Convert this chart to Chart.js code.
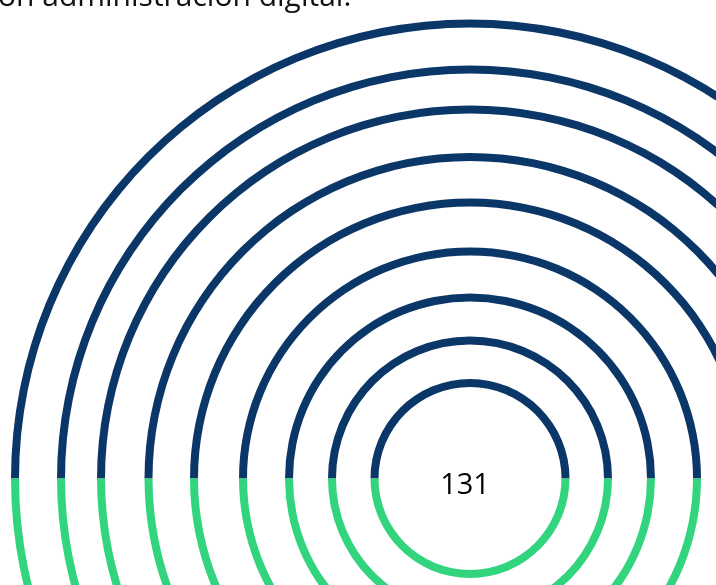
<!DOCTYPE html>
<html>
<head>
<meta charset="utf-8">
<script src="https://cdn.jsdelivr.net/npm/chart.js@4/dist/chart.umd.min.js"></script>
<style>
  html, body { margin: 0; padding: 0; width: 716px; height: 585px; overflow: hidden; background: #ffffff; }
  #wrap { position: relative; width: 716px; height: 585px; overflow: hidden; }
  #c { position: absolute; left: 0; top: 0; }
  #title { position: absolute; left: -2px; top: -20px; font-family: "Open Sans", sans-serif; font-size: 30px; line-height: 30px; color: #111; white-space: nowrap; }
</style>
</head>
<body>
<div id="wrap">
  <canvas id="c" width="940" height="957"></canvas>
  <div id="title">on administración digital.</div>
</div>
<script>
// ---- data ----
const ringLabels = ['Anillo 1','Anillo 2','Anillo 3','Anillo 4','Anillo 5','Anillo 6','Anillo 7','Anillo 8','Anillo 9']; // outer -> inner
const halfLabels = ['Superior', 'Inferior'];
const upperShare = [50, 50, 50, 50, 50, 50, 50, 50, 50];
const lowerShare = [50, 50, 50, 50, 50, 50, 50, 50, 50];
const centerLabel = '131';

// ---- layout / style (not data) ----
const upperColor = '#0b3768';
const lowerColor = '#33d47e';
const ringCenters = [455, 409, 369, 321.5, 276, 227, 181, 138, 95.5]; // px, outer -> inner
const ringWidth = 8;

const outerEdge = ringCenters[0] + ringWidth / 2;
const innerEdge = ringCenters[ringCenters.length - 1] - ringWidth / 2;

const datasets = [];
ringLabels.forEach((lab, i) => {
  if (i > 0) {
    const gap = (ringCenters[i - 1] - ringWidth / 2) - (ringCenters[i] + ringWidth / 2);
    datasets.push({
      label: 'gap' + i,
      data: [1],
      backgroundColor: ['rgba(0,0,0,0)'],
      borderWidth: 0,
      weight: gap
    });
  }
  datasets.push({
    label: lab,
    data: [upperShare[i], lowerShare[i]],
    backgroundColor: [upperColor, lowerColor],
    borderWidth: 0,
    weight: ringWidth
  });
});

const centerText = {
  id: 'centerText',
  afterDraw(chart) {
    const arc = chart.getDatasetMeta(0).data[0];
    const ctx = chart.ctx;
    ctx.save();
    ctx.font = '29px "Open Sans", sans-serif';
    ctx.fillStyle = '#000';
    ctx.textAlign = 'center';
    ctx.textBaseline = 'alphabetic';
    ctx.fillText(centerLabel, arc.x - 5, arc.y + 15);
    ctx.restore();
  }
};

new Chart(document.getElementById('c'), {
  type: 'doughnut',
  data: { labels: halfLabels, datasets: datasets },
  options: {
    responsive: false,
    animation: false,
    events: [],
    rotation: -90,
    radius: outerEdge,
    cutout: (innerEdge / outerEdge * 100) + '%',
    layout: { padding: 0 },
    plugins: { legend: { display: false }, tooltip: { enabled: false }, title: { display: false } }
  },
  plugins: [centerText]
});
</script>
</body>
</html>
